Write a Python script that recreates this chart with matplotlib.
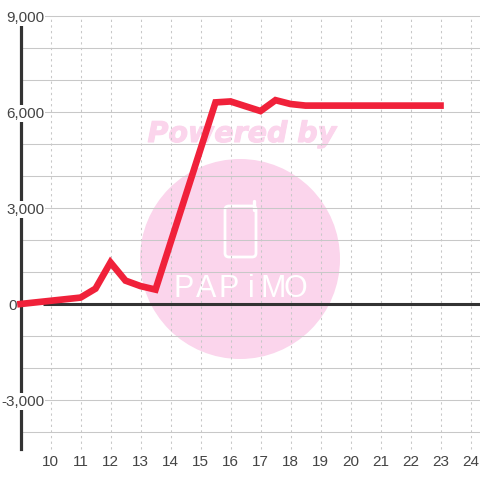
import matplotlib
matplotlib.use("Agg")
import matplotlib.pyplot as plt
from matplotlib.patches import Circle, FancyBboxPatch
from matplotlib.lines import Line2D
from matplotlib.transforms import ScaledTranslation
import matplotlib.patheffects as pe

hours = [9, 11, 11.5, 12, 12.5, 13, 13.5, 15.5, 16, 17, 17.5, 18, 18.5, 23]
values = [0, 200, 480, 1300, 730, 560, 450, 6300, 6330, 6030, 6370, 6250, 6200, 6200]
x_ticks = list(range(10, 25))
y_major = [-3000, 0, 3000, 6000, 9000]
y_labels = ["-3,000", "0", "3,000", "6,000", "9,000"]
y_grid = [-4000, -3000, -2000, -1000, 1000, 2000, 3000, 4000, 5000, 6000, 7000, 8000, 9000]
logo_letters = ["P", "A", "P", "i", "M", "O"]

plt.rcParams["font.family"] = ["Liberation Sans", "DejaVu Sans"]
W = 480
fig = plt.figure(figsize=(4.8, 4.8), dpi=100, facecolor="white")


def fx(p):
    return p / W


def fy(p):
    return 1 - p / W


# watermark, positioned in figure pixels
PINK = "#fbd5ec"
fig.add_artist(Circle((fx(240), fy(259)), 100 / W, transform=fig.transFigure,
                      facecolor=PINK, edgecolor="none", zorder=-3))
fig.text(fx(242), fy(134), "Powered by", color=PINK, fontsize=20.5, ha="center", va="center",
         fontweight="bold", fontstyle="italic", family="DejaVu Sans", zorder=-3,
         path_effects=[pe.withStroke(linewidth=0.8, foreground=PINK)])
fig.add_artist(FancyBboxPatch((fx(225), fy(257)), 31 / W, 51 / W, boxstyle="round,pad=0,rounding_size=0.008",
                              transform=fig.transFigure, facecolor="none", edgecolor="white",
                              linewidth=2.0, zorder=-2))
fig.add_artist(Line2D([fx(254.5), fx(254.5)], [fy(210), fy(201)], transform=fig.transFigure,
                      color="white", lw=2.4, solid_capstyle="round", zorder=-2))
for i, ch in enumerate(logo_letters):
    fig.text(fx(184 + i * 22.3), fy(289), ch, color="white", fontsize=22, ha="center", va="center",
             family="Liberation Sans", zorder=-2)

left, right, top, bottom = 20.5, 480, 16, 449
ax = fig.add_axes([left / W, 1 - bottom / W, (right - left) / W, (bottom - top) / W])
ax.patch.set_alpha(0)
xmax = 9 + (right - left) / 30
ax.set_xlim(9, xmax)
ax.set_ylim(9000 - (bottom - top) / 0.032, 9000)

ax.set_xticks(x_ticks)
ax.set_yticks(y_major, y_labels)
ax.hlines(y_grid, 0, 1, transform=ax.get_yaxis_transform(), color="#c8c8c8", lw=0.75, zorder=1, clip_on=False)
ax.vlines(x_ticks, 0, 1, transform=ax.get_xaxis_transform(), color="#c8c8c8", lw=0.75,
          linestyles=[(0, (2.2, 3.2))], zorder=1, clip_on=False)
ax.set_axisbelow(False)

for s in ["top", "right", "bottom"]:
    ax.spines[s].set_visible(False)
ax.spines["left"].set_linewidth(2.3)
ax.spines["left"].set_color("#333333")
ax.spines["left"].set_zorder(1.5)
ax.hlines(0, 9.75, xmax, color="#333333", lw=2.2, zorder=1.6, clip_on=False)

ax.tick_params(axis="both", which="both", length=0)
ax.tick_params(axis="x", pad=4.5, labelsize=11, labelcolor="#444444")
ax.tick_params(axis="y", pad=-17, labelsize=11, labelcolor="#444444")
for t in ax.get_yticklabels():
    if t.get_text() != "0":
        t.set_bbox(dict(facecolor="white", edgecolor="none", pad=0.8))

# the "0" label sits left of the vertical axis
for tick, lab in zip(ax.yaxis.get_major_ticks(), y_labels):
    if lab == "0":
        tick.label1.set_transform(tick.label1.get_transform() + ScaledTranslation(-27 / 100, 0, fig.dpi_scale_trans))

ax.plot(hours, values, color="#f0213a", lw=4.8, solid_joinstyle="miter", zorder=3, clip_on=False)

fig.savefig("out.png", dpi=100)
